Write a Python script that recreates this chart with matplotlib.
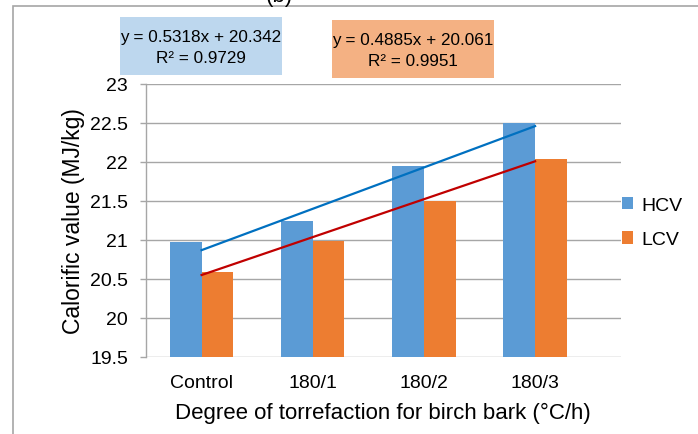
import matplotlib
matplotlib.use("Agg")
import matplotlib.pyplot as plt
import numpy as np
from matplotlib.patches import Rectangle

plt.rcParams['font.family'] = ['Liberation Sans', 'DejaVu Sans']

categories = ["Control", "180/1", "180/2", "180/3"]
hcv = [20.97, 21.24, 21.95, 22.50]
lcv = [20.59, 20.99, 21.50, 22.04]
hcv_eq = "y = 0.5318x + 20.342\nR² = 0.9729"
lcv_eq = "y = 0.4885x + 20.061\nR² = 0.9951"
yticks = [19.5, 20, 20.5, 21, 21.5, 22, 22.5, 23]

W, H = 698, 435
fig = plt.figure(figsize=(W / 100, H / 100), dpi=100)
ax = fig.add_axes([146 / W, 1 - 358 / H, (620.7 - 146) / W, (358 - 85) / H])

x = np.arange(len(categories))
bw = 0.285
c_h = "#5B9BD5"
c_l = "#ED7D31"
ax.bar(x - bw / 2, np.array(hcv) - 19.5, bw, bottom=19.5, color=c_h, zorder=2, label="HCV")
ax.bar(x + bw / 2, np.array(lcv) - 19.5, bw, bottom=19.5, color=c_l, zorder=2, label="LCV")

# trend lines (linear fits)
xs = np.arange(1, len(categories) + 1)
ph = np.polyfit(xs, hcv, 1)
pl = np.polyfit(xs, lcv, 1)
ax.plot(x, np.polyval(ph, xs), color="#0070C0", lw=1.6, zorder=3)
ax.plot(x, np.polyval(pl, xs), color="#C00000", lw=1.6, zorder=3)

ax.set_ylim(19.5, 23)
ax.set_yticks(yticks)
ax.set_yticklabels([f"{v:g}" for v in yticks])
ax.set_xlim(-0.5, 3.77)
ax.set_xticks(x)
ax.set_xticklabels(categories)
ax.yaxis.grid(True, color="#A6A6A6", lw=1.0, zorder=0)
ax.set_axisbelow(True)
for s in ["top", "right", "bottom"]:
    ax.spines[s].set_visible(False)
ax.spines["left"].set_color("#A6A6A6")
ax.spines["left"].set_linewidth(1.0)
ax.tick_params(axis="y", length=4.3, width=1.0, color="#A6A6A6", labelsize=14, pad=8.5)
ax.tick_params(axis="x", length=0, labelsize=14, pad=12)
ax.set_xlabel("Degree of torrefaction for birch bark (°C/h)", fontsize=16, labelpad=8)
ax.set_ylabel("Calorific value (MJ/kg)", fontsize=16.5, labelpad=4)

leg = ax.legend(loc="upper left", bbox_to_anchor=(614 / W, 1 - 190 / H), bbox_transform=fig.transFigure,
                frameon=False, fontsize=14, handlelength=0.6, handleheight=0.6, handletextpad=0.4,
                labelspacing=0.9, borderaxespad=0)

# equation boxes
fig.patches.append(Rectangle((120 / W, 1 - 76 / H), 162 / W, 58 / H, transform=fig.transFigure,
                             facecolor="#BDD7EE", edgecolor="none", zorder=5))
fig.text(201 / W, 1 - 48 / H, hcv_eq, ha="center", va="center", fontsize=12.3, linespacing=1.45,
         zorder=6)
fig.patches.append(Rectangle((332 / W, 1 - 79 / H), 162 / W, 58 / H, transform=fig.transFigure,
                             facecolor="#F4B183", edgecolor="none", zorder=5))
fig.text(413 / W, 1 - 51 / H, lcv_eq, ha="center", va="center", fontsize=12.3, linespacing=1.45,
         zorder=6)

# outer border and cut title
fig.patches.append(Rectangle((13 / W, -0.1), 1.2, 1 - 7 / H + 0.1, transform=fig.transFigure,
                             facecolor="none", edgecolor="#A6A6A6", lw=1.2))
fig.text(279 / W, 1 - 2 / H, "(b)", ha="center", va="baseline", fontsize=16)

fig.savefig("out.png", dpi=100)
